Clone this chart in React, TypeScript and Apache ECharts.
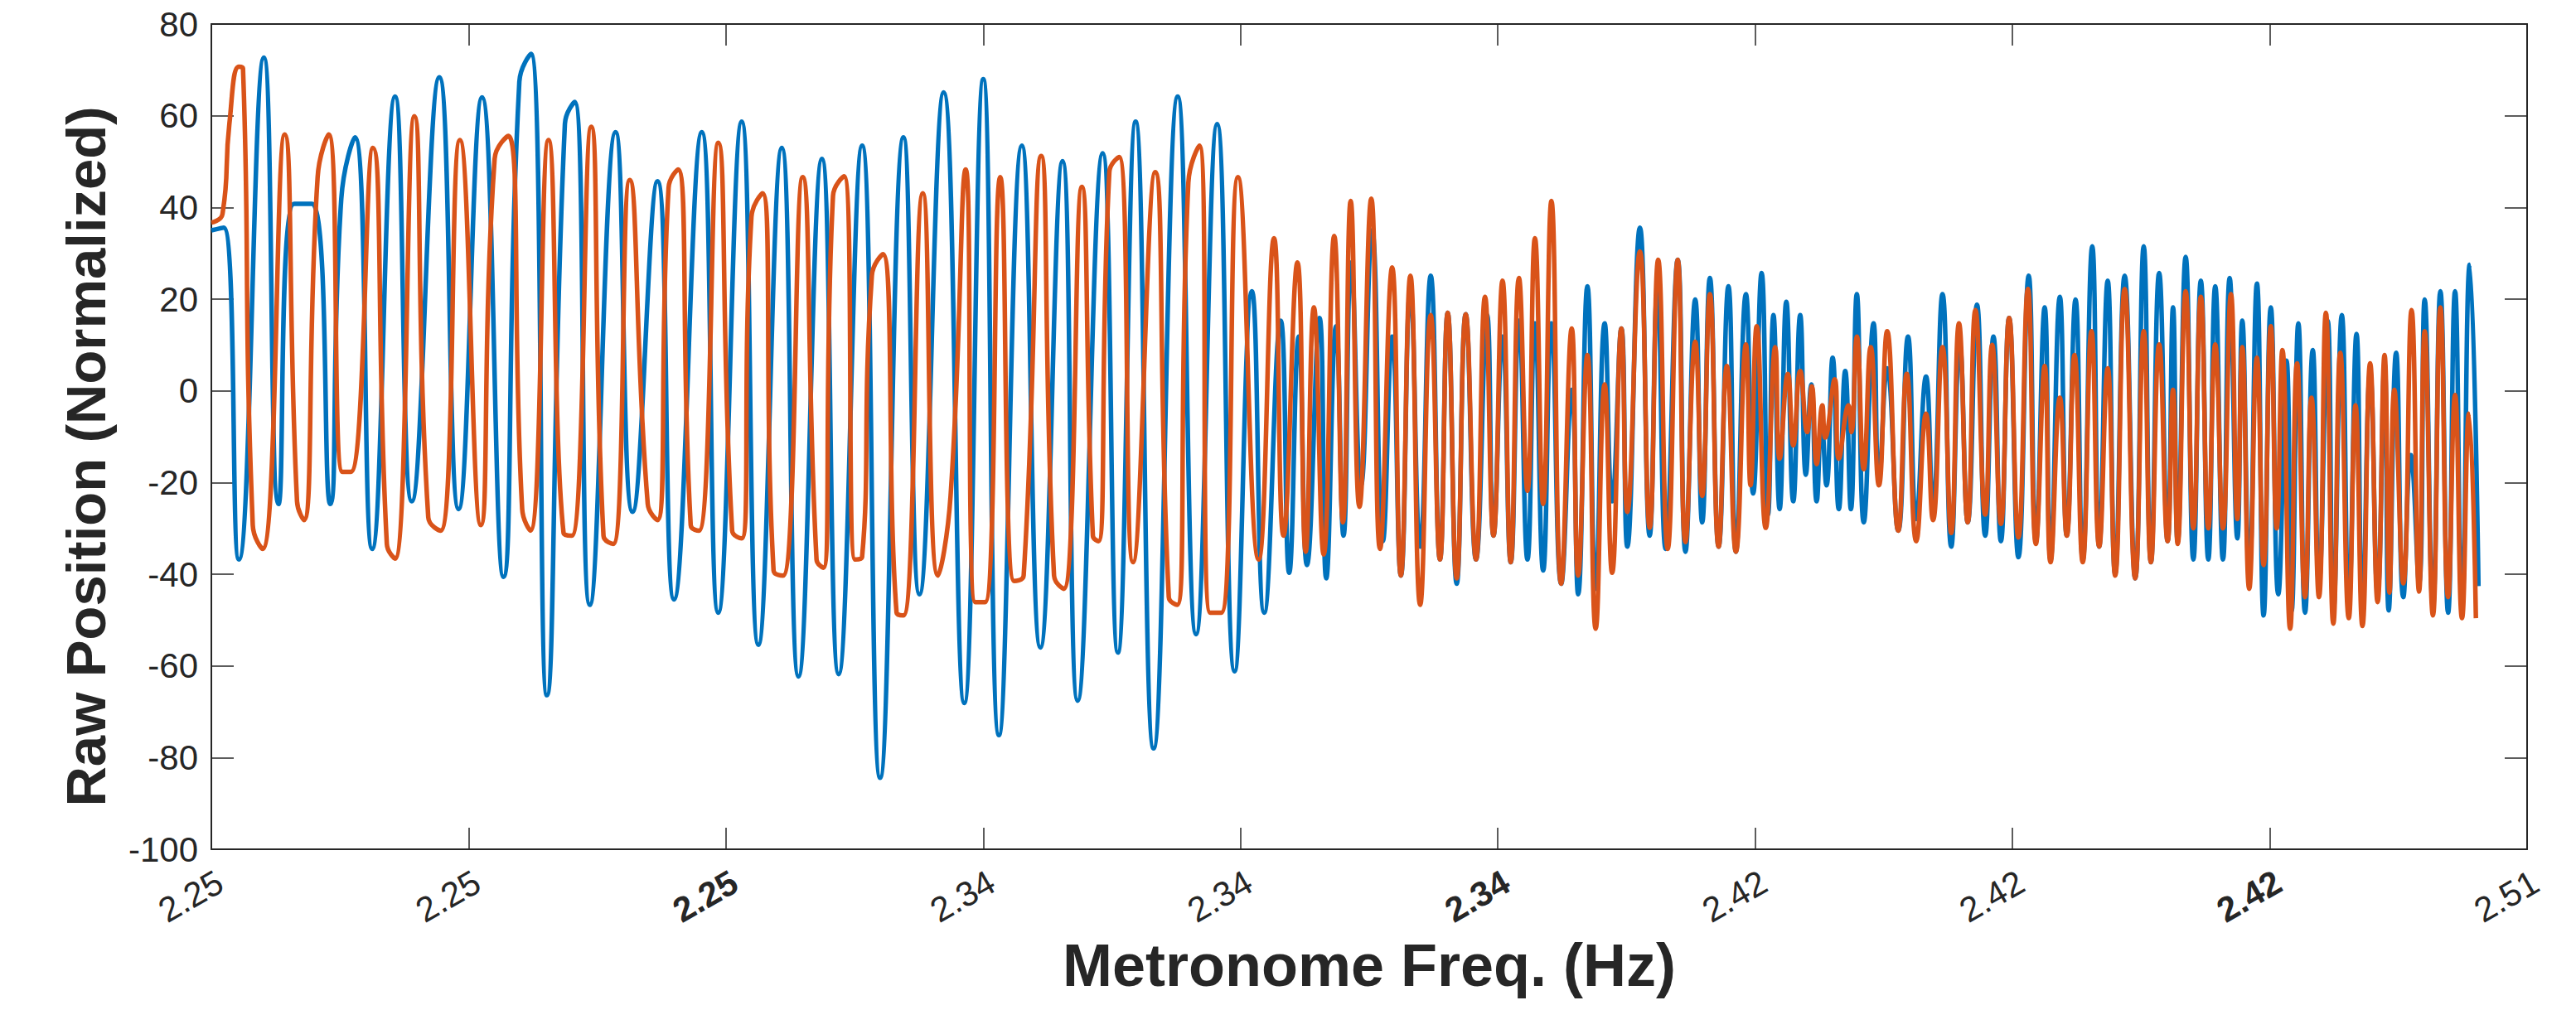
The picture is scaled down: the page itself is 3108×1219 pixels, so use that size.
import React, { useEffect, useRef } from 'react';
import * as echarts from 'echarts';

// Tick labels as printed on the reference x axis (evenly spaced ticks)
const xTickLabels = ['2.25', '2.25', '2.25', '2.34', '2.34', '2.34', '2.42', '2.42', '2.42', '2.51'];
const boldTickIndex = [2, 5, 8];
const xMin = 0;
const xMax = 900;
const xStep = 100;
const yMin = -100;
const yMax = 80;
const yStep = 20;

// [position along the x axis (100 per tick), normalized position]
const blueSeries: [number, number][] = [
  [0, 35.0], [4.8, 35.6], [10.7, -36.8], [20.4, 72.7], [26.1, -24.7], [32.2, 40.8], [39.2, 40.8], [46.2, -24.7],
  [50.5, 41.9], [55.8, 55.3], [62.5, -34.5], [71.4, 64.2], [77.9, -24.1], [88.6, 68.4], [96.1, -25.8], [105.2, 64.0],
  [113.5, -40.6], [119.7, 67.4], [124.2, 73.5], [130.4, -66.4], [137.4, 58.2], [141.2, 63.0], [147.1, -46.7], [157.1, 56.4],
  [163.7, -26.4], [173.4, 45.7], [179.8, -45.5], [190.6, 56.4], [197.0, -48.4], [206.1, 58.7], [212.6, -55.4], [221.7, 53.0],
  [228.2, -62.3], [237.3, 50.6], [243.8, -61.8], [252.9, 53.5], [259.9, -84.4], [269.0, 55.3], [275.2, -44.4], [284.6, 65.1],
  [292.6, -68.1], [300.0, 68.0], [306.1, -75.1], [315.0, 53.5], [322.2, -56.0], [330.8, 50.1], [336.7, -67.6], [346.4, 51.8],
  [352.3, -57.1], [359.2, 58.7], [366.2, -78.0], [375.6, 64.2], [382.7, -53.1], [390.9, 58.2], [397.7, -61.2], [404.4, 21.7],
  [409.2, -48.4], [415.6, 15.3], [418.9, -39.7], [422.6, 11.8], [425.8, -38.0], [430.7, 15.9], [433.3, -40.9], [437.1, 14.1],
  [440.0, -31.6], [443.0, 28.0], [446.8, -20.6], [451.1, 35.0], [455.3, -32.8], [458.9, 11.8], [462.3, -40.3], [466.0, 22.0],
  [469.8, -34.0], [473.9, 25.1], [477.5, -36.8], [480.5, 17.0], [484.0, -42.1], [487.5, 16.7], [491.5, -36.8], [495.8, 16.5],
  [498.3, -31.6], [501.8, 11.8], [505.0, -37.4], [508.2, 15.3], [511.5, -36.8], [514.4, 14.7], [517.6, -39.2], [520.8, 14.7],
  [524.6, -42.1], [528.7, 0.2], [531.2, -44.4], [534.8, 22.8], [538.0, -43.2], [541.5, 14.7], [544.4, -24.1], [548.0, 13.6],
  [550.3, -34.0], [555.2, 35.6], [559.0, -31.6], [562.0, 22.2], [565.2, -34.5], [569.9, 28.6], [572.9, -35.1], [576.7, 19.9],
  [579.4, -28.7], [582.4, 24.6], [585.8, -34.0], [589.6, 22.8], [592.5, -35.1], [596.4, 21.1], [599.2, -22.4], [602.5, 25.7],
  [605.0, -27.0], [607.1, 16.5], [609.5, -25.8], [612.1, 19.4], [614.8, -24.1], [617.5, 16.5], [619.7, -18.3], [621.8, 1.4],
  [623.9, -24.1], [625.8, -6.7], [627.7, -20.6], [630.1, 7.2], [632.5, -25.8], [635.0, 4.3], [637.2, -25.8], [639.5, 21.1],
  [642.2, -28.7], [646.0, 14.7], [648.1, -19.5], [651.3, 4.9], [655.6, -30.5], [659.4, 11.8], [662.6, -28.0], [666.4, 3.1],
  [669.1, -25.0], [672.8, 21.1], [676.2, -34.0], [679.5, 10.0], [682.6, -28.7], [686.2, 18.8], [689.4, -31.6], [692.6, 11.8],
  [695.5, -32.8], [698.7, 15.9], [702.3, -36.3], [706.3, 25.1], [709.1, -33.0], [712.5, 18.2], [714.8, -37.0], [718.4, 20.5],
  [721.1, -31.6], [724.5, 19.9], [727.3, -37.0], [731.0, 31.5], [733.7, -34.0], [737.0, 24.0], [739.9, -40.0], [743.6, 25.1],
  [747.7, -40.9], [751.0, 31.5], [753.8, -37.4], [757.0, 25.7], [760.3, -32.8], [762.4, 18.2], [764.2, -33.0], [767.3, 29.2],
  [770.3, -36.8], [773.2, 24.0], [776.1, -36.8], [778.8, 22.8], [781.8, -36.8], [784.4, 24.6], [787.4, -32.2], [789.3, 15.3],
  [792.0, -40.0], [795.0, 23.4], [797.6, -49.0], [800.4, 18.2], [803.3, -44.4], [806.5, 6.6], [808.5, -48.0], [811.1, 14.7],
  [813.7, -48.4], [816.7, 8.9], [819.1, -42.0], [822.5, 15.3], [824.7, -48.0], [828.0, 16.5], [830.7, -46.0], [833.7, 12.4],
  [836.0, -48.0], [839.0, 4.0], [841.9, -44.0], [844.6, 6.0], [846.2, -47.9], [849.1, 8.3], [851.9, -45.0], [854.8, -14.0],
  [858.0, -42.0], [860.2, 19.9], [863.4, -47.0], [866.3, 21.7], [869.3, -48.4], [872.0, 21.7], [874.7, -47.0], [877.7, 27.5],
  [881.1, -42.6],
];

const orangeSeries: [number, number][] = [
  [0, 36.7], [4.3, 38.5], [7.0, 58.2], [10.7, 70.7], [12.3, 70.3], [16.1, -29.3], [19.9, -34.5], [28.5, 55.9],
  [33.3, -24.1], [36.0, -28.2], [41.3, 46.6], [45.6, 55.9], [51.0, -17.7], [54.2, -17.7], [62.8, 53.0], [68.2, -33.4],
  [71.4, -36.6], [78.9, 59.9], [84.3, -27.6], [89.1, -30.5], [96.6, 54.7], [104.7, -29.3], [110.1, 50.6], [115.4, 55.6],
  [120.8, -25.8], [124.0, -30.5], [131.0, 54.7], [136.9, -31.1], [140.1, -31.6], [147.6, 57.6], [152.4, -31.6], [156.2, -33.4],
  [162.6, 46.0], [169.6, -24.7], [173.4, -28.2], [177.7, 44.3], [181.4, 48.3], [186.3, -29.3], [189.5, -30.5], [197.0, 54.1],
  [202.4, -30.5], [206.1, -32.2], [209.9, 37.9], [214.2, 43.1], [218.5, -39.2], [222.2, -40.3], [229.8, 46.6], [235.2, -36.8],
  [237.9, -38.6], [241.6, 42.5], [245.9, 46.8], [250.2, -36.8], [252.9, -36.3], [256.7, 25.1], [261.0, 29.8], [266.3, -48.4],
  [269.0, -49.0], [276.5, 43.1], [282.4, -40.3], [287.3, -22.9], [293.2, 48.3], [296.9, -46.1], [300.7, -46.1], [306.6, 46.6],
  [312.0, -41.5], [315.7, -40.3], [322.5, 51.2], [327.5, -40.3], [331.3, -43.2], [338.3, 44.5], [342.6, -31.6], [344.8, -32.8],
  [349.0, 47.7], [352.8, 51.0], [358.2, -37.4], [366.8, 47.7], [372.1, -45.0], [375.4, -46.7], [379.7, 45.4], [384.0, 53.5],
  [388.2, -48.4], [392.5, -48.4], [399.0, 46.6], [407.0, -36.8], [413.0, 33.3], [416.7, -31.6], [422.1, 28.0], [425.3, -35.1],
  [428.5, 18.2], [432.3, -35.7], [436.4, 33.8], [439.8, -28.7], [442.8, 41.4], [446.2, -25.3], [450.8, 41.9], [454.2, -34.5],
  [458.9, 26.9], [462.3, -40.3], [466.0, 25.1], [469.8, -46.7], [473.9, 16.5], [477.5, -36.8], [480.5, 17.0], [484.0, -40.9],
  [487.5, 16.7], [491.5, -36.8], [495.0, 20.5], [498.3, -31.6], [501.8, 24.0], [505.0, -37.4], [508.2, 24.6], [511.5, -21.8],
  [514.4, 33.3], [517.6, -24.7], [520.8, 41.4], [524.6, -42.1], [528.7, 13.6], [531.2, -40.3], [534.8, 7.8], [538.0, -51.9],
  [541.5, 1.4], [544.4, -39.7], [548.0, 13.6], [550.3, -26.4], [555.2, 30.4], [559.0, -29.9], [562.3, 28.6], [566.0, -34.5],
  [569.9, 28.6], [572.9, -33.0], [576.7, 10.7], [579.4, -22.9], [582.4, 21.1], [585.8, -34.0], [589.0, 5.4], [592.5, -35.1],
  [596.4, 10.1], [598.2, -20.6], [600.6, 14.1], [604.1, -29.9], [607.8, 9.5], [609.5, -14.8], [612.7, 3.7], [614.8, -11.9],
  [617.5, 4.3], [620.2, -9.0], [622.0, 1.0], [623.9, -16.0], [626.1, -3.2], [627.2, -10.2], [630.9, 2.5], [632.5, -14.8],
  [636.3, -3.2], [637.4, -9.0], [639.5, 11.8], [642.2, -17.1], [644.9, 9.5], [648.1, -20.6], [651.3, 13.0], [655.6, -30.5],
  [658.9, 3.7], [662.6, -32.8], [666.4, -5.0], [669.1, -28.2], [672.8, 9.5], [676.2, -31.0], [679.2, 14.7], [682.6, -28.7],
  [685.6, 17.6], [689.4, -27.0], [692.1, 10.0], [695.5, -29.0], [698.7, 15.9], [702.3, -32.0], [706.0, 22.2], [709.1, -33.4],
  [712.5, 5.4], [714.8, -37.4], [718.4, -1.5], [721.1, -31.6], [724.1, 7.8], [727.3, -37.4], [730.7, 13.0], [733.7, -34.0],
  [737.0, 4.9], [739.9, -40.3], [743.6, 22.2], [747.7, -40.9], [751.0, 13.0], [753.8, -37.4], [757.0, 10.1], [760.3, -32.8],
  [762.4, 0.2], [764.2, -33.4], [767.3, 21.7], [770.3, -30.0], [773.2, 20.5], [776.1, -30.0], [778.8, 10.1], [781.8, -30.0],
  [784.9, 21.1], [787.4, -28.0], [789.3, 9.5], [792.0, -43.2], [795.0, 7.2], [797.6, -38.0], [800.4, 14.1], [802.7, -30.0],
  [804.9, 8.9], [807.9, -51.9], [810.6, 6.0], [813.7, -45.0], [816.2, -1.5], [819.1, -45.0], [821.8, 17.0], [824.7, -50.8],
  [827.4, 8.3], [830.7, -49.6], [833.3, -3.2], [836.0, -51.3], [839.0, 6.0], [841.9, -46.1], [844.6, 7.8], [846.5, -44.0],
  [848.4, 0.2], [851.9, -42.0], [855.1, 17.6], [858.0, -43.8], [860.2, 13.0], [863.4, -49.0], [866.3, 18.2], [869.3, -45.0],
  [872.0, -0.9], [874.7, -49.6], [877.4, -5.0], [880.1, -49.6],
];

const FONT = '"Liberation Sans", Arial, Helvetica, sans-serif';
const AXIS_COLOR = '#262626';

export default function App() {
  const ref = useRef<HTMLDivElement>(null);

  useEffect(() => {
    if (!ref.current) return;
    const chart = echarts.init(ref.current, null, { renderer: 'svg' });

    const axisLine = { show: true, onZero: false, lineStyle: { color: AXIS_COLOR, width: 2 } };
    const xTick = { show: true, inside: true, length: 26, lineStyle: { color: AXIS_COLOR, width: 1.5 } };
    const yTick = { show: true, inside: true, length: 27, lineStyle: { color: AXIS_COLOR, width: 1.5 } };

    const xLabelFormatter = (v: number) => {
      const i = Math.round((v - xMin) / xStep);
      const t = xTickLabels[i] ?? '';
      return boldTickIndex.includes(i) ? `{b|${t}}` : `{n|${t}}`;
    };

    chart.setOption({
      animation: false,
      backgroundColor: '#ffffff',
      grid: { left: 255, right: 59, top: 29, bottom: 194, containLabel: false },
      xAxis: [
        {
          type: 'value', min: xMin, max: xMax, interval: xStep, position: 'bottom',
          axisLine, axisTick: xTick, splitLine: { show: false },
          name: 'Metronome Freq. (Hz)', nameLocation: 'middle', nameGap: 104,
          nameTextStyle: { fontSize: 72, fontWeight: 'bold', color: AXIS_COLOR, fontFamily: FONT },
          axisLabel: {
            rotate: 30, margin: 18, verticalAlign: 'top', formatter: xLabelFormatter,
            rich: {
              n: { fontSize: 42, color: AXIS_COLOR, fontFamily: FONT },
              b: { fontSize: 42, fontWeight: 'bold', color: AXIS_COLOR, fontFamily: FONT },
            },
          },
        },
        {
          type: 'value', min: xMin, max: xMax, interval: xStep, position: 'top',
          axisLine, axisTick: xTick, splitLine: { show: false }, axisLabel: { show: false },
        },
      ],
      yAxis: [
        {
          type: 'value', min: yMin, max: yMax, interval: yStep, position: 'left',
          axisLine, axisTick: yTick, splitLine: { show: false },
          name: 'Raw Position (Normalized)', nameLocation: 'middle', nameGap: 118,
          nameTextStyle: { fontSize: 67, fontWeight: 'bold', color: AXIS_COLOR, fontFamily: FONT, padding: [0, 48, 0, 0] },
          axisLabel: { fontSize: 42, color: AXIS_COLOR, fontFamily: FONT, margin: 16 },
        },
        {
          type: 'value', min: yMin, max: yMax, interval: yStep, position: 'right',
          axisLine, axisTick: yTick, splitLine: { show: false }, axisLabel: { show: false },
        },
      ],
      series: [
        {
          name: 'Metronome 1', type: 'line', data: blueSeries, showSymbol: false, smooth: 0.5,
          lineStyle: { color: '#0072BD', width: 5.5 }, xAxisIndex: 0, yAxisIndex: 0, z: 2,
        },
        {
          name: 'Metronome 2', type: 'line', data: orangeSeries, showSymbol: false, smooth: 0.5,
          lineStyle: { color: '#D95319', width: 5.5 }, xAxisIndex: 0, yAxisIndex: 0, z: 3,
        },
      ],
    });

    return () => chart.dispose();
  }, []);

  return (
    <div
      ref={ref}
      style={{ position: 'fixed', left: 0, top: 0, width: '3108px', height: '1219px', background: '#ffffff' }}
    />
  );
}
